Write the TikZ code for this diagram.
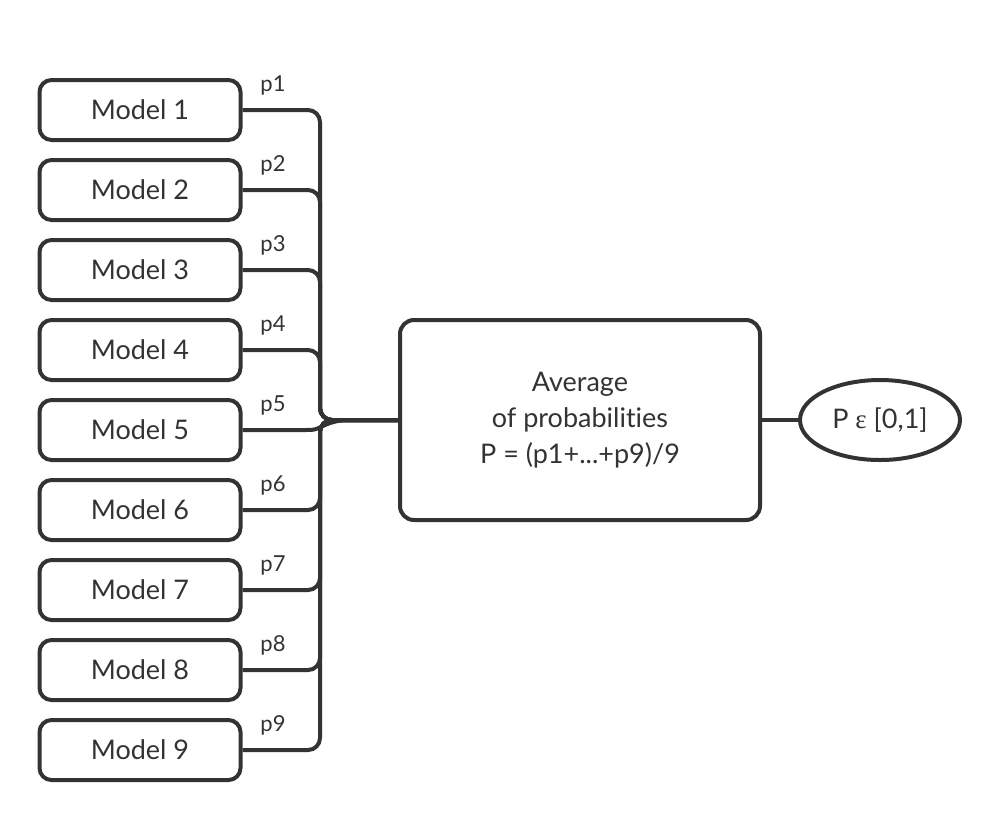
\documentclass[tikz,border=0pt]{standalone}
\usepackage{fontspec}
\setmainfont{Lato}[Ligatures=NoCommon]
\newfontfamily\epsfont{Liberation Serif}
\usetikzlibrary{shapes.geometric}
\definecolor{ink}{HTML}{333333}

\begin{document}
\begin{tikzpicture}[x=0.5pt, y=-0.5pt, color=ink,
    model/.style={rectangle, rounded corners=6pt, draw, line width=2pt, minimum width=100.5pt, minimum height=30pt, font=\fontsize{13.5}{16}\selectfont},
    avg/.style={rectangle, rounded corners=7pt, draw, line width=2pt, minimum width=180pt, minimum height=100pt, align=center, font=\fontsize{13.5}{18}\selectfont},
    result/.style={ellipse, draw, line width=2pt, minimum width=80pt, minimum height=40pt, inner sep=0pt, font=\fontsize{13.5}{16}\selectfont},
    lbl/.style={inner sep=0pt, font=\fontsize{11}{13}\selectfont},
    wire/.style={line width=2pt, rounded corners=6pt}]
                \useasboundingbox (0,0) rectangle (1001,821);

                % Models
                \node[model] (M1) at (140,110) {Model 1};
                \node[model] (M2) at (140,190) {Model 2};
                \node[model] (M3) at (140,270) {Model 3};
                \node[model] (M4) at (140,350) {Model 4};
                \node[model] (M5) at (140,430) {Model 5};
                \node[model] (M6) at (140,510) {Model 6};
                \node[model] (M7) at (140,590) {Model 7};
                \node[model] (M8) at (140,670) {Model 8};
                \node[model] (M9) at (140,750) {Model 9};

                % Probability labels
                \node[lbl] (P1) at (273,85) {p1};
                \node[lbl] (P2) at (273,165) {p2};
                \node[lbl] (P3) at (273,245) {p3};
                \node[lbl] (P4) at (273,325) {p4};
                \node[lbl] (P5) at (273,405) {p5};
                \node[lbl] (P6) at (273,485) {p6};
                \node[lbl] (P7) at (273,565) {p7};
                \node[lbl] (P8) at (273,645) {p8};
                \node[lbl] (P9) at (273,725) {p9};

                % Average and output
                \node[avg] (Avg) at (580,420) {Average\\of probabilities\\P = (p1+...+p9)/9};
                \node[result] (Res) at (880,420) {P {\epsfont ε} [0,1]};

                \coordinate (J) at (320,420); % bus junction

                \draw[wire] (M1.east) -| (J) -- (Avg.west);
                \draw[wire] (M2.east) -| (J) -- (Avg.west);
                \draw[wire] (M3.east) -| (J) -- (Avg.west);
                \draw[wire] (M4.east) -| (J) -- (Avg.west);
                \draw[wire] (M5.east) -- (290,430) .. controls (315,430) .. (335,420) -- (Avg.west); % straight in
                \draw[wire] (M6.east) -| (J) -- (Avg.west);
                \draw[wire] (M7.east) -| (J) -- (Avg.west);
                \draw[wire] (M8.east) -| (J) -- (Avg.west);
                \draw[wire] (M9.east) -| (J) -- (Avg.west);

                \draw[wire] (Avg) -- (Res);
            \end{tikzpicture}
\end{document}
